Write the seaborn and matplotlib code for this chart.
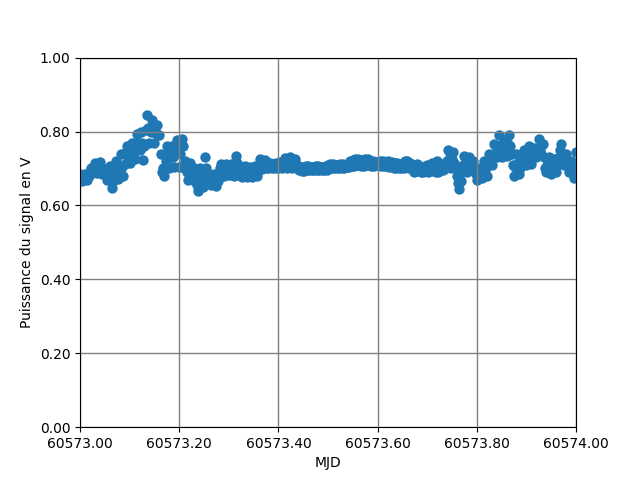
import matplotlib
matplotlib.use("Agg")
import matplotlib.pyplot as plt
from matplotlib.ticker import FormatStrFormatter, MultipleLocator
import seaborn as sns
import pandas as pd

mjd_base = 60573.0

# time offsets (days) from MJD 60573
mjd_offset = [
    0.0000, 0.0025, 0.0050, 0.0075, 0.0100, 0.0125, 0.0150, 0.0175,
    0.0200, 0.0225, 0.0250, 0.0275, 0.0300, 0.0325, 0.0350, 0.0375,
    0.0400, 0.0425, 0.0450, 0.0475, 0.0500, 0.0525, 0.0550, 0.0575,
    0.0600, 0.0625, 0.0650, 0.0675, 0.0700, 0.0725, 0.0750, 0.0775,
    0.0800, 0.0825, 0.0850, 0.0875, 0.0900, 0.0925, 0.0950, 0.0975,
    0.1000, 0.1025, 0.1050, 0.1075, 0.1100, 0.1125, 0.1150, 0.1175,
    0.1200, 0.1225, 0.1250, 0.1275, 0.1300, 0.1325, 0.1350, 0.1375,
    0.1400, 0.1425, 0.1450, 0.1475, 0.1500, 0.1525, 0.1550, 0.1575,
    0.1600, 0.1625, 0.1650, 0.1675, 0.1700, 0.1725, 0.1750, 0.1775,
    0.1800, 0.1825, 0.1850, 0.1875, 0.1900, 0.1925, 0.1950, 0.1975,
    0.2000, 0.2025, 0.2050, 0.2075, 0.2100, 0.2125, 0.2150, 0.2175,
    0.2200, 0.2225, 0.2250, 0.2275, 0.2300, 0.2325, 0.2350, 0.2375,
    0.2400, 0.2425, 0.2450, 0.2475, 0.2500, 0.2525, 0.2550, 0.2575,
    0.2600, 0.2625, 0.2650, 0.2675, 0.2700, 0.2725, 0.2750, 0.2775,
    0.2800, 0.2825, 0.2850, 0.2875, 0.2900, 0.2925, 0.2950, 0.2975,
    0.3000, 0.3025, 0.3050, 0.3075, 0.3100, 0.3125, 0.3150, 0.3175,
    0.3200, 0.3225, 0.3250, 0.3275, 0.3300, 0.3325, 0.3350, 0.3375,
    0.3400, 0.3425, 0.3450, 0.3475, 0.3500, 0.3525, 0.3550, 0.3575,
    0.3600, 0.3625, 0.3650, 0.3675, 0.3700, 0.3725, 0.3750, 0.3775,
    0.3800, 0.3825, 0.3850, 0.3875, 0.3900, 0.3925, 0.3950, 0.3975,
    0.4000, 0.4025, 0.4050, 0.4075, 0.4100, 0.4125, 0.4150, 0.4175,
    0.4200, 0.4225, 0.4250, 0.4275, 0.4300, 0.4325, 0.4350, 0.4375,
    0.4400, 0.4425, 0.4450, 0.4475, 0.4500, 0.4525, 0.4550, 0.4575,
    0.4600, 0.4625, 0.4650, 0.4675, 0.4700, 0.4725, 0.4750, 0.4775,
    0.4800, 0.4825, 0.4850, 0.4875, 0.4900, 0.4925, 0.4950, 0.4975,
    0.5000, 0.5025, 0.5050, 0.5075, 0.5100, 0.5125, 0.5150, 0.5175,
    0.5200, 0.5225, 0.5250, 0.5275, 0.5300, 0.5325, 0.5350, 0.5375,
    0.5400, 0.5425, 0.5450, 0.5475, 0.5500, 0.5525, 0.5550, 0.5575,
    0.5600, 0.5625, 0.5650, 0.5675, 0.5700, 0.5725, 0.5750, 0.5775,
    0.5800, 0.5825, 0.5850, 0.5875, 0.5900, 0.5925, 0.5950, 0.5975,
    0.6000, 0.6025, 0.6050, 0.6075, 0.6100, 0.6125, 0.6150, 0.6175,
    0.6200, 0.6225, 0.6250, 0.6275, 0.6300, 0.6325, 0.6350, 0.6375,
    0.6400, 0.6425, 0.6450, 0.6475, 0.6500, 0.6525, 0.6550, 0.6575,
    0.6600, 0.6625, 0.6650, 0.6675, 0.6700, 0.6725, 0.6750, 0.6775,
    0.6800, 0.6825, 0.6850, 0.6875, 0.6900, 0.6925, 0.6950, 0.6975,
    0.7000, 0.7025, 0.7050, 0.7075, 0.7100, 0.7125, 0.7150, 0.7175,
    0.7200, 0.7225, 0.7250, 0.7275, 0.7300, 0.7325, 0.7350, 0.7375,
    0.7400, 0.7425, 0.7450, 0.7475, 0.7500, 0.7525, 0.7550, 0.7575,
    0.7600, 0.7625, 0.7650, 0.7675, 0.7700, 0.7725, 0.7750, 0.7775,
    0.7800, 0.7825, 0.7850, 0.7875, 0.7900, 0.7925, 0.7950, 0.7975,
    0.8000, 0.8025, 0.8050, 0.8075, 0.8100, 0.8125, 0.8150, 0.8175,
    0.8200, 0.8225, 0.8250, 0.8275, 0.8300, 0.8325, 0.8350, 0.8375,
    0.8400, 0.8425, 0.8450, 0.8475, 0.8500, 0.8525, 0.8550, 0.8575,
    0.8600, 0.8625, 0.8650, 0.8675, 0.8700, 0.8725, 0.8750, 0.8775,
    0.8800, 0.8825, 0.8850, 0.8875, 0.8900, 0.8925, 0.8950, 0.8975,
    0.9000, 0.9025, 0.9050, 0.9075, 0.9100, 0.9125, 0.9150, 0.9175,
    0.9200, 0.9225, 0.9250, 0.9275, 0.9300, 0.9325, 0.9350, 0.9375,
    0.9400, 0.9425, 0.9450, 0.9475, 0.9500, 0.9525, 0.9550, 0.9575,
    0.9600, 0.9625, 0.9650, 0.9675, 0.9700, 0.9725, 0.9750, 0.9775,
    0.9800, 0.9825, 0.9850, 0.9875, 0.9900, 0.9925, 0.9950, 0.9975,
    1.0000,
]

# signal power (V)
puissance = [
    0.686, 0.676, 0.667, 0.678, 0.685, 0.675, 0.668, 0.680,
    0.692, 0.700, 0.688, 0.705, 0.715, 0.700, 0.688, 0.705,
    0.718, 0.700, 0.686, 0.690, 0.698, 0.685, 0.670, 0.685,
    0.706, 0.680, 0.648, 0.665, 0.700, 0.720, 0.690, 0.672,
    0.700, 0.738, 0.705, 0.680, 0.712, 0.745, 0.760, 0.730,
    0.715, 0.750, 0.770, 0.745, 0.725, 0.760, 0.794, 0.770,
    0.750, 0.800, 0.770, 0.722, 0.760, 0.805, 0.845, 0.810,
    0.770, 0.800, 0.830, 0.800, 0.768, 0.795, 0.818, 0.790,
    0.790, 0.740, 0.690, 0.700, 0.680, 0.720, 0.760, 0.740,
    0.700, 0.730, 0.760, 0.730, 0.705, 0.745, 0.778, 0.750,
    0.705, 0.740, 0.780, 0.760, 0.700, 0.720, 0.690, 0.668,
    0.690, 0.715, 0.690, 0.668, 0.700, 0.680, 0.655, 0.640,
    0.665, 0.700, 0.672, 0.650, 0.690, 0.730, 0.700, 0.660,
    0.686, 0.670, 0.655, 0.670, 0.686, 0.668, 0.653, 0.665,
    0.682, 0.700, 0.713, 0.695, 0.680, 0.695, 0.712, 0.698,
    0.682, 0.700, 0.713, 0.690, 0.680, 0.710, 0.734, 0.715,
    0.690, 0.707, 0.680, 0.676, 0.690, 0.707, 0.695, 0.678,
    0.688, 0.705, 0.692, 0.676, 0.686, 0.706, 0.695, 0.680,
    0.698, 0.726, 0.710, 0.698, 0.705, 0.724, 0.710, 0.700,
    0.702, 0.715, 0.705, 0.700, 0.712, 0.702, 0.715, 0.705,
    0.700, 0.718, 0.705, 0.700, 0.710, 0.728, 0.715, 0.700,
    0.712, 0.730, 0.715, 0.700, 0.710, 0.725, 0.712, 0.703,
    0.707, 0.695, 0.705, 0.694, 0.705, 0.694, 0.706, 0.697,
    0.706, 0.697, 0.705, 0.695, 0.705, 0.695, 0.707, 0.696,
    0.707, 0.696, 0.705, 0.697, 0.705, 0.697, 0.707, 0.695,
    0.710, 0.700, 0.713, 0.702, 0.713, 0.700, 0.710, 0.702,
    0.710, 0.702, 0.712, 0.700, 0.712, 0.700, 0.710, 0.703,
    0.710, 0.705, 0.720, 0.708, 0.724, 0.708, 0.726, 0.710,
    0.726, 0.710, 0.722, 0.707, 0.722, 0.707, 0.725, 0.710,
    0.725, 0.710, 0.720, 0.708, 0.720, 0.708, 0.718, 0.710,
    0.718, 0.710, 0.720, 0.707, 0.720, 0.706, 0.718, 0.708,
    0.720, 0.705, 0.716, 0.706, 0.718, 0.700, 0.715, 0.702,
    0.715, 0.702, 0.712, 0.700, 0.712, 0.700, 0.720, 0.703,
    0.720, 0.700, 0.714, 0.700, 0.710, 0.690, 0.705, 0.692,
    0.713, 0.695, 0.708, 0.690, 0.700, 0.690, 0.705, 0.692,
    0.710, 0.690, 0.705, 0.692, 0.715, 0.695, 0.712, 0.690,
    0.720, 0.690, 0.712, 0.695, 0.712, 0.695, 0.705, 0.700,
    0.720, 0.750, 0.730, 0.700, 0.725, 0.745, 0.715, 0.700,
    0.680, 0.660, 0.645, 0.665, 0.690, 0.710, 0.734, 0.710,
    0.690, 0.715, 0.730, 0.705, 0.695, 0.720, 0.700, 0.685,
    0.670, 0.690, 0.700, 0.680, 0.675, 0.700, 0.720, 0.695,
    0.680, 0.710, 0.740, 0.715, 0.710, 0.740, 0.765, 0.740,
    0.730, 0.760, 0.790, 0.760, 0.730, 0.755, 0.775, 0.750,
    0.735, 0.765, 0.790, 0.760, 0.740, 0.710, 0.680, 0.705,
    0.740, 0.715, 0.685, 0.700, 0.710, 0.735, 0.750, 0.725,
    0.710, 0.735, 0.760, 0.730, 0.712, 0.735, 0.755, 0.740,
    0.730, 0.755, 0.780, 0.750, 0.740, 0.765, 0.730, 0.700,
    0.690, 0.710, 0.730, 0.705, 0.686, 0.705, 0.725, 0.700,
    0.690, 0.710, 0.730, 0.750, 0.765, 0.740, 0.710, 0.735,
    0.740, 0.710, 0.690, 0.715, 0.720, 0.700, 0.675, 0.700,
    0.745,
]

df = pd.DataFrame({
    "MJD": [mjd_base + d for d in mjd_offset],
    "P": puissance,
})

fig, ax = plt.subplots(figsize=(6.4, 4.8), dpi=100)
sns.scatterplot(data=df, x="MJD", y="P", ax=ax, color="#1f77b4",
                s=56, linewidth=0, alpha=1.0, legend=False)

ax.set_xlim(60573.0, 60574.0)
ax.set_ylim(0.0, 1.0)
ax.xaxis.set_major_locator(MultipleLocator(0.2))
ax.yaxis.set_major_locator(MultipleLocator(0.2))
ax.xaxis.set_major_formatter(FormatStrFormatter("%.2f"))
ax.yaxis.set_major_formatter(FormatStrFormatter("%.2f"))
ax.grid(True, color="gray", linewidth=1.0)
ax.set_xlabel("MJD")
ax.set_ylabel("Puissance du signal en V")

fig.savefig("out.png", dpi=100)
